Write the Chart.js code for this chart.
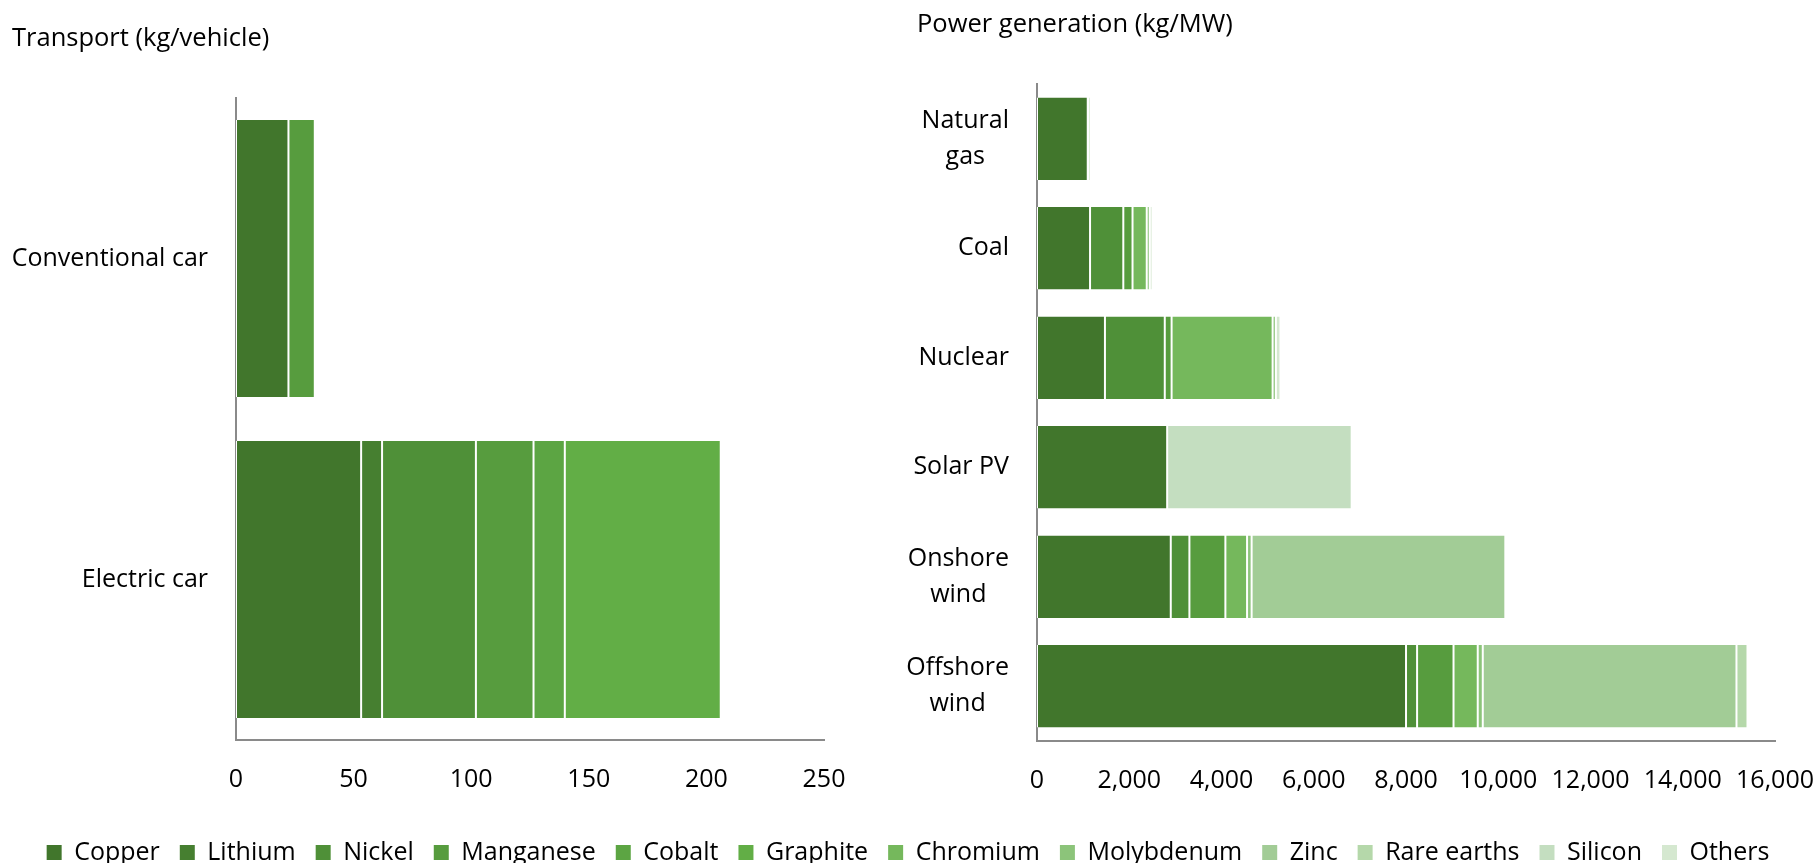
<!DOCTYPE html>
<html>
<head>
<meta charset="utf-8">
<script src="https://cdn.jsdelivr.net/npm/chart.js@4.4.1/dist/chart.umd.min.js"></script>
<style>
  html, body { margin: 0; padding: 0; background: #ffffff; overflow: hidden; width: 1816px; height: 863px; position: relative; }
  canvas { position: absolute; }
  #cLeft { left: 0; top: 0; }
  #cRight { left: 905px; top: 0; }
  #cLegend { left: 0; top: 702px; }
</style>
</head>
<body>
<canvas id="cLeft" width="900" height="820" style="width:900px;height:820px"></canvas>
<canvas id="cRight" width="934" height="820" style="width:934px;height:820px"></canvas>
<canvas id="cLegend" width="1816" height="173" style="width:1816px;height:173px"></canvas>
<script>
// ---------- Data ----------
const materials = ['Copper', 'Lithium', 'Nickel', 'Manganese', 'Cobalt', 'Graphite',
                   'Chromium', 'Molybdenum', 'Zinc', 'Rare earths', 'Silicon', 'Others'];
const materialColors = ['#41762c', '#467f30', '#4f9038', '#579c3e', '#5ca543', '#62ae46',
                        '#75b85c', '#8cc47a', '#a2cc96', '#b5d8aa', '#c4dec0', '#d5e8d0'];

// Transport (kg/vehicle)
const transportCategories = ['Conventional car', 'Electric car'];
const transportCopper     = [22.3, 53.2];
const transportLithium    = [null, 8.9];
const transportNickel     = [null, 39.9];
const transportManganese  = [11.2, 24.5];
const transportCobalt     = [null, 13.3];
const transportGraphite   = [null, 66.3];
const transportTicks      = [0, 50, 100, 150, 200, 250];

// Power generation (kg/MW)
const powerCategories = [['Natural', 'gas'], ['Coal'], ['Nuclear'], ['Solar PV'], ['Onshore', 'wind'], ['Offshore', 'wind']];
const powerCopper      = [1100, 1150, 1473, 2822, 2900, 8000];
const powerNickel      = [16, 721, 1297, null, 404, 240];
const powerManganese   = [null, 200, 148, null, 780, 790];
const powerChromium    = [48, 308, 2190, null, 470, 525];
const powerMolybdenum  = [null, 66, 70, null, 99, 109];
const powerZinc        = [null, null, null, null, 5500, 5500];
const powerRareEarths  = [null, null, null, null, 14, 239];
const powerSilicon     = [null, null, null, 4000, null, null];
const powerOthers      = [null, 60, 100, null, null, null];
const powerTicks       = [0, 2000, 4000, 6000, 8000, 10000, 12000, 14000, 16000];

// ---------- Styling ----------
const FONT = "'Open Sans', 'Noto Sans', sans-serif";
const FS = 25;
Chart.defaults.font.family = FONT;
Chart.defaults.font.size = FS;
Chart.defaults.color = '#000000';
Chart.defaults.animation = false;

const AXIS_COLOR = '#8a8a8a';

function makeDataset(name, values, barPct) {
  const idx = materials.indexOf(name);
  return {
    label: name,
    data: values,
    backgroundColor: materialColors[idx],
    borderColor: '#ffffff',
    borderWidth: { left: 1, right: 1, top: 0, bottom: 0 },
    borderSkipped: false,
    barPercentage: barPct,
    categoryPercentage: 1.0
  };
}

// Category labels: block right-aligned to the axis, lines centered within the block
const catLabelPlugin = {
  id: 'catLabels',
  afterDraw(chart, args, opts) {
    const scale = chart.scales.y;
    const ctx = chart.ctx;
    ctx.save();
    ctx.font = FS + 'px ' + FONT;
    ctx.fillStyle = '#000000';
    ctx.textBaseline = 'middle';
    ctx.textAlign = 'center';
    const lineH = 36;
    chart.data.labels.forEach((lab, i) => {
      const lines = Array.isArray(lab) ? lab : [lab];
      const widest = Math.max(...lines.map(l => ctx.measureText(l).width));
      const right = chart.chartArea.left - opts.gap;
      const cx = right - widest / 2;
      const cy = scale.getPixelForValue(i);
      lines.forEach((l, k) => {
        ctx.fillText(l, cx, cy + (k - (lines.length - 1) / 2) * lineH);
      });
    });
    ctx.restore();
  }
};

function baseOptions(titleText, titlePadTop, titlePadBottom, yWidth, xHeight, xMin, xMax, xStep, padLeft, padRight, tickFmt) {
  return {
    indexAxis: 'y',
    responsive: false,
    maintainAspectRatio: false,
    layout: { padding: { left: padLeft, right: padRight, top: 0, bottom: 0 } },
    plugins: {
      legend: { display: false },
      tooltip: { enabled: false },
      title: {
        display: true,
        text: titleText,
        align: 'start',
        color: '#000000',
        font: { family: FONT, size: 25.5, weight: 'normal', lineHeight: 1.2 },
        padding: { top: titlePadTop, bottom: titlePadBottom }
      },
      catLabels: { gap: 28 }
    },
    scales: {
      x: {
        stacked: true,
        min: xMin, max: xMax,
        grid: { display: false, drawTicks: false },
        border: { display: true, color: AXIS_COLOR, width: 2 },
        ticks: { stepSize: xStep, padding: 25, color: '#000000', font: { size: FS }, maxRotation: 0, autoSkip: false, callback: tickFmt },
        afterFit: (s) => { s.height = xHeight; }
      },
      y: {
        stacked: true,
        grid: { display: false, drawTicks: false },
        border: { display: true, color: AXIS_COLOR, width: 2 },
        ticks: { display: false },
        afterFit: (s) => { s.width = yWidth; }
      }
    }
  };
}

// ---------- Left chart: Transport ----------
new Chart(document.getElementById('cLeft'), {
  type: 'bar',
  data: {
    labels: transportCategories,
    datasets: [
      makeDataset('Copper', transportCopper, 0.863),
      makeDataset('Lithium', transportLithium, 0.863),
      makeDataset('Nickel', transportNickel, 0.863),
      makeDataset('Manganese', transportManganese, 0.863),
      makeDataset('Cobalt', transportCobalt, 0.863),
      makeDataset('Graphite', transportGraphite, 0.863)
    ]
  },
  options: baseOptions('Transport (kg/vehicle)', 23, 44.4, 224, 80, transportTicks[0], transportTicks[transportTicks.length - 1],
                       transportTicks[1] - transportTicks[0], 12, 76, (v) => v),
  plugins: [catLabelPlugin]
});

// ---------- Right chart: Power generation ----------
new Chart(document.getElementById('cRight'), {
  type: 'bar',
  data: {
    labels: powerCategories,
    datasets: [
      makeDataset('Copper', powerCopper, 0.753),
      makeDataset('Nickel', powerNickel, 0.753),
      makeDataset('Manganese', powerManganese, 0.753),
      makeDataset('Chromium', powerChromium, 0.753),
      makeDataset('Molybdenum', powerMolybdenum, 0.753),
      makeDataset('Zinc', powerZinc, 0.753),
      makeDataset('Rare earths', powerRareEarths, 0.753),
      makeDataset('Silicon', powerSilicon, 0.753),
      makeDataset('Others', powerOthers, 0.753)
    ]
  },
  options: baseOptions('Power generation (kg/MW)', 9, 44.4, 120, 79, powerTicks[0], powerTicks[powerTicks.length - 1],
                       powerTicks[1] - powerTicks[0], 12, 21, (v) => Number(v).toLocaleString('en-US')),
  plugins: [catLabelPlugin]
});

// ---------- Shared legend ----------
new Chart(document.getElementById('cLegend'), {
  type: 'bar',
  data: {
    labels: [],
    datasets: materials.map((m, i) => ({ label: m, data: [], backgroundColor: materialColors[i], borderWidth: 0 }))
  },
  options: {
    responsive: false,
    maintainAspectRatio: false,
    layout: { padding: 0 },
    scales: { x: { display: false }, y: { display: false } },
    plugins: {
      tooltip: { enabled: false },
      title: { display: false },
      legend: {
        display: true,
        position: 'bottom',
        align: 'center',
        labels: {
          boxWidth: 15, boxHeight: 15, padding: 20,
          color: '#000000',
          font: { family: FONT, size: FS }
        }
      }
    }
  }
});
</script>
</body>
</html>
